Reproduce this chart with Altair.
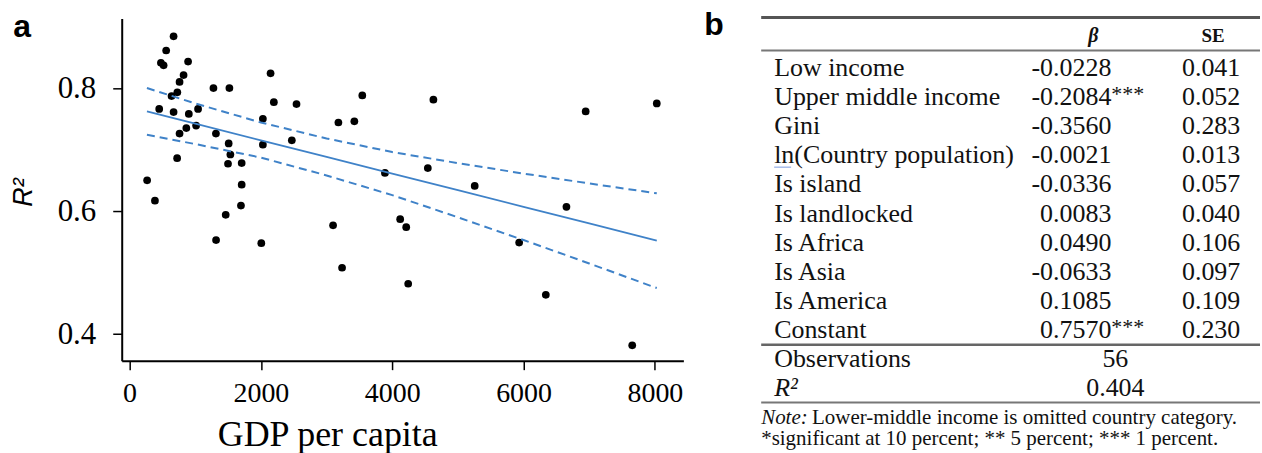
import altair as alt
import pandas as pd

# ---------------- panel a data ----------------
gdp = [670, 557, 477, 518, 891, 822, 761, 727, 639, 1277,
       1520, 2147, 2197, 2542, 3544, 451, 670, 902, 1043, 1013,
       864, 761, 1315, 2030, 3180, 3423, 1509, 2030, 2471, 1535,
       1499, 1707, 724, 3889, 267, 1707, 386, 1696, 1464, 3099,
       4121, 1317, 2006, 3236, 4627, 6946, 8029, 4542, 5256, 6653,
       4213, 5933, 4243, 6339, 7655]
r2 = [0.884, 0.861, 0.841, 0.837, 0.843, 0.821, 0.810, 0.793, 0.787, 0.800,
      0.800, 0.824, 0.777, 0.774, 0.788, 0.766, 0.761, 0.758, 0.766, 0.739,
      0.735, 0.726, 0.726, 0.750, 0.744, 0.746, 0.710, 0.708, 0.715, 0.692,
      0.677, 0.678, 0.686, 0.662, 0.650, 0.643, 0.617, 0.609, 0.594, 0.577,
      0.587, 0.553, 0.548, 0.508, 0.781, 0.762, 0.775, 0.670, 0.641, 0.607,
      0.574, 0.549, 0.482, 0.464, 0.382]

fit_x = [264, 1000, 2000, 3000, 4000, 5000, 6000, 7000, 8029]
fit_y = [0.762, 0.742, 0.715, 0.688, 0.661, 0.634, 0.607, 0.580, 0.552]
ci_upper = [0.800, 0.775, 0.744, 0.718, 0.696, 0.678, 0.661, 0.645, 0.629]
ci_lower = [0.724, 0.709, 0.687, 0.658, 0.626, 0.590, 0.553, 0.515, 0.475]

x_ticks = [0, 2000, 4000, 6000, 8000]
y_ticks = [0.4, 0.6, 0.8]

# ---------------- panel b data (regression table) ----------------
var_labels = ["Low income", "Upper middle income", "Gini", "ln(Country population)",
              "Is island", "Is landlocked", "Is Africa", "Is Asia", "Is America", "Constant"]
beta = ["-0.0228", "-0.2084", "-0.3560", "-0.0021", "-0.0336",
        "0.0083", "0.0490", "-0.0633", "0.1085", "0.7570"]
stars = ["", "***", "", "", "", "", "", "", "", "***"]
se = ["0.041", "0.052", "0.283", "0.013", "0.057",
      "0.040", "0.106", "0.097", "0.109", "0.230"]
stat_labels = ["Observations", "R²"]
stat_values = ["56", "0.404"]
note_lead = "Note:"
note_text = "Lower-middle income is omitted country category."
note_sig = "*significant at 10 percent; ** 5 percent; *** 1 percent."

SERIF = "Liberation Serif"
SANS = "Liberation Sans"
BLUE = "#3f82c8"

# ---------------- panel a ----------------
pts = pd.DataFrame({"gdp": gdp, "r2": r2})
fit = pd.DataFrame({"gdp": fit_x, "fit": fit_y, "upper": ci_upper, "lower": ci_lower})

xscale = alt.Scale(domain=[-120, 8434], nice=False, zero=False)
yscale = alt.Scale(domain=[0.357, 0.913], nice=False, zero=False)

xaxis = alt.Axis(values=x_ticks, format="d", title="GDP per capita", grid=False,
                 domainColor="black", domainWidth=2, tickColor="black", tickWidth=1.5,
                 tickSize=9, labelFont=SERIF, labelFontSize=28, labelColor="black",
                 labelPadding=10, labelFlush=False, titleFont=SERIF, titleFontSize=36,
                 titleFontWeight="normal", titleColor="black", titleX=206, titleY=85,
                 titleBaseline="alphabetic", titleAlign="center")
yaxis = alt.Axis(values=y_ticks, format=".1f", title="R²", grid=False,
                 domainColor="black", domainWidth=2, tickColor="black", tickWidth=1.5,
                 tickSize=9, labelFont=SERIF, labelFontSize=31, labelColor="black",
                 labelPadding=17, labelFlush=False, titleFont=SANS, titleFontStyle="italic",
                 titleFontSize=27, titleFontWeight="normal", titleColor="black",
                 titleX=-98.7, titleY=174, titleAngle=270, titleBaseline="middle",
                 titleAlign="center")

points = alt.Chart(pts).mark_circle(size=60, color="black", opacity=1).encode(
    x=alt.X("gdp:Q", scale=xscale, axis=xaxis),
    y=alt.Y("r2:Q", scale=yscale, axis=yaxis),
)
base_fit = alt.Chart(fit)
fit_line = base_fit.mark_line(color=BLUE, strokeWidth=1.8).encode(
    x=alt.X("gdp:Q", scale=xscale), y=alt.Y("fit:Q", scale=yscale))
up_line = base_fit.mark_line(color=BLUE, strokeWidth=2, strokeDash=[8, 5]).encode(
    x=alt.X("gdp:Q", scale=xscale), y=alt.Y("upper:Q", scale=yscale))
lo_line = base_fit.mark_line(color=BLUE, strokeWidth=2, strokeDash=[8, 5]).encode(
    x=alt.X("gdp:Q", scale=xscale), y=alt.Y("lower:Q", scale=yscale))

a_label = alt.Chart(pd.DataFrame({"t": ["a"]})).mark_text(
    font=SANS, fontWeight="bold", fontSize=32, align="left", baseline="alphabetic",
    color="black").encode(x=alt.value(-108.7), y=alt.value(19), text="t:N")

left = alt.layer(points, fit_line, up_line, lo_line, a_label).properties(width=563, height=343)

# ---------------- panel b ----------------
rows = pd.DataFrame({"label": var_labels, "beta": beta, "stars": stars, "se": se,
                     "row": list(range(1, len(var_labels) + 1))})
stats = pd.DataFrame({"label": stat_labels, "value": stat_values,
                      "row": [len(var_labels) + 1, len(var_labels) + 2]})
header = pd.DataFrame({"b": ["β"], "s": ["SE"], "row": [0]})

yrow = alt.Y("row:Q", scale=alt.Scale(domain=[-0.72, 14.06], reverse=True, nice=False, zero=False),
             axis=None)

FS = 26
lab_t = alt.Chart(rows).mark_text(font=SERIF, fontSize=FS, align="left", baseline="middle",
                                  color="#111").encode(x=alt.value(70), y=yrow, text="label:N")
beta_t = alt.Chart(rows).mark_text(font=SERIF, fontSize=FS, align="right", baseline="middle",
                                   color="#111").encode(x=alt.value(408), y=yrow, text="beta:N")
star_t = alt.Chart(rows).mark_text(font=SERIF, fontSize=22, align="left", baseline="middle",
                                   dy=-3, color="#111").encode(x=alt.value(408), y=yrow, text="stars:N")
se_t = alt.Chart(rows).mark_text(font=SERIF, fontSize=FS, align="center", baseline="middle",
                                 color="#111").encode(x=alt.value(508), y=yrow, text="se:N")
hb_t = alt.Chart(header).mark_text(font=SERIF, fontSize=20, fontWeight="bold", fontStyle="italic",
                                   align="center", baseline="middle", dy=-3, color="#111").encode(
    x=alt.value(390), y=yrow, text="b:N")
hs_t = alt.Chart(header).mark_text(font=SERIF, fontSize=19, fontWeight="bold",
                                   align="center", baseline="middle", dy=-3, color="#111").encode(
    x=alt.value(510), y=yrow, text="s:N")
st_lab_n = alt.Chart(stats).transform_filter(alt.datum.label != "R²").mark_text(
    font=SERIF, fontSize=FS, align="left", baseline="middle", color="#111").encode(
    x=alt.value(70), y=yrow, text="label:N")
st_lab_i = alt.Chart(stats).transform_filter(alt.datum.label == "R²").mark_text(
    font=SERIF, fontSize=FS, fontStyle="italic", align="left", baseline="middle",
    color="#111").encode(x=alt.value(70), y=yrow, text="label:N")
st_val = alt.Chart(stats).mark_text(font=SERIF, fontSize=FS, align="center", baseline="middle",
                                    color="#111").encode(x=alt.value(412), y=yrow, text="value:N")

one = pd.DataFrame({"k": [0]})
def hrule(y, w, c="#555555"):
    return alt.Chart(one).mark_rule(color=c, strokeWidth=w).encode(
        x=alt.value(57), x2=alt.value(557), y=alt.value(y))

r_top = hrule(-1, 3)
r_head = hrule(32, 2, "#777777")
r_mid = hrule(327, 2.5, "#666666")
r_bot = hrule(385, 2, "#777777")
ln_ul = alt.Chart(one).mark_rule(color="#7a9be0", strokeWidth=1).encode(
    x=alt.value(70), x2=alt.value(87), y=alt.value(149))

notes = pd.DataFrame({"lead": [note_lead], "text": [note_text], "sig": [note_sig]})
n_lead = alt.Chart(notes).mark_text(font=SERIF, fontSize=21, fontStyle="italic", align="left",
                                    baseline="middle", color="#111").encode(
    x=alt.value(57), y=alt.value(400), text="lead:N")
n_text = alt.Chart(notes).mark_text(font=SERIF, fontSize=21, align="left",
                                    baseline="middle", color="#111").encode(
    x=alt.value(108), y=alt.value(400), text="text:N")
n_sig = alt.Chart(notes).mark_text(font=SERIF, fontSize=21, align="left",
                                   baseline="middle", color="#111").encode(
    x=alt.value(57), y=alt.value(422), text="sig:N")
b_label = alt.Chart(pd.DataFrame({"t": ["b"]})).mark_text(
    font=SANS, fontWeight="bold", fontSize=32, align="left", baseline="alphabetic",
    color="black").encode(x=alt.value(0), y=alt.value(17), text="t:N")

right = alt.layer(r_top, r_head, r_mid, r_bot, ln_ul, lab_t, beta_t, star_t, se_t, hb_t, hs_t,
                  st_lab_n, st_lab_i, st_val, n_lead, n_text, n_sig, b_label).properties(
    width=557, height=430)

chart = alt.hconcat(left, right, spacing=21, bounds="flush").properties(
    padding={"left": 9, "top": 9, "right": 0, "bottom": 0},
    background="white",
).configure_view(stroke=None)

chart.save("out.html", embed_options={"renderer": "svg", "actions": False})
